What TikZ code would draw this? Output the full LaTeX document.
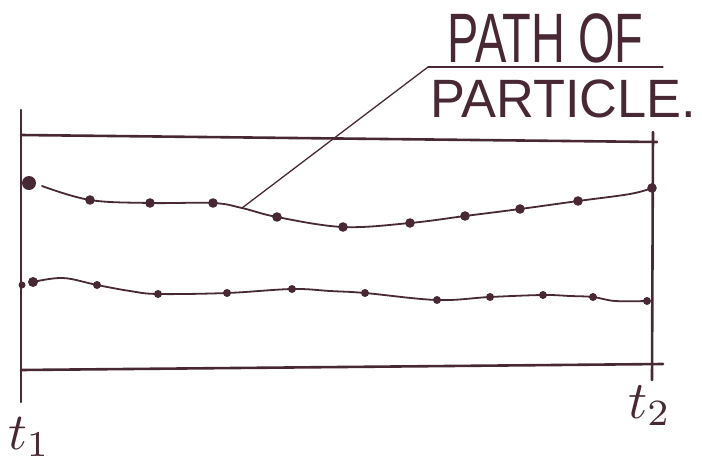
\documentclass[tikz,border=0pt]{standalone}
\usepackage{fontspec}
\setmainfont{Liberation Sans}
\definecolor{ink}{RGB}{72,40,52}
\tikzset{
  boxline/.style={draw=ink, line width=2.6pt, line cap=round},
  pathline/.style={draw=ink, line width=1.8pt, line cap=round},
  leaderline/.style={draw=ink, line width=1.3pt, line cap=round},
  dotmark/.style={fill=ink},
  lbl/.style={text=ink, inner sep=0pt, anchor=base west}
}
\begin{document}
\begin{tikzpicture}[x=1pt,y=-1pt]
\useasboundingbox (0,0) rectangle (702,469);
% frame
\coordinate (lt) at (21,110);
\coordinate (lb) at (21,402);
\coordinate (tl) at (21,135);
\coordinate (tr) at (657,142);
\coordinate (rt) at (653,132);
\coordinate (rb) at (652,380);
\coordinate (bl) at (21,370);
\coordinate (br) at (663,364);
\draw[boxline] (lt) -- (lb);
\draw[boxline] (tl) -- (tr);
\draw[boxline] (rt) -- (rb);
\draw[boxline] (bl) -- (br);
% upper path
\draw[pathline] plot[smooth, tension=0.6] coordinates {(42,186) (90,200) (150,203) (213,203) (242,208) (277,217) (343,227) (410,223) (465,216) (520,209) (578,201) (630,194) (652,188)};
\fill[dotmark] (29,183) circle (7);
\foreach \p in {(90,200),(150,203),(213,203),(277,217),(343,227),(410,223),(465,216),(520,209),(578,201),(652,188)}
  \fill[dotmark] \p circle (4.8);
% lower path
\draw[pathline] plot[smooth, tension=0.6] coordinates {(33,282) (63,278) (97,285) (130,291) (158,294) (227,293) (292,289) (330,291) (365,293) (437,300) (490,297) (543,295) (570,296) (593,297) (615,301) (647,301)};
\fill[dotmark] (22,285) circle (3.5);
\fill[dotmark] (33,282) circle (5);
\foreach \p in {(97,285),(158,294),(227,293),(292,289),(365,293),(437,300),(490,297),(543,295),(593,297),(647,301)}
  \fill[dotmark] \p circle (4);
% labels
\node[lbl, font=\fontsize{70}{70}\selectfont] (pathof) at (447,62) {\scalebox{0.67}[1]{PATH OF}};
\node[lbl, font=\fontsize{54}{54}\selectfont] (particle) at (430,117) {\scalebox{0.97}[1]{PARTICLE.}};
\coordinate (ulw) at (428,67);
\coordinate (ule) at (663,67);
\coordinate (touch) at (242,208);
\draw[leaderline] (ulw) -- (ule);
\draw[leaderline] (ulw) -- (touch);
\node[lbl] (t1) at (8,449) {\scalebox{5.2}{$t_1$}};
\node[lbl] (t2) at (628,418) {\scalebox{5.3}{$t_2$}};
\end{tikzpicture}
\end{document}
